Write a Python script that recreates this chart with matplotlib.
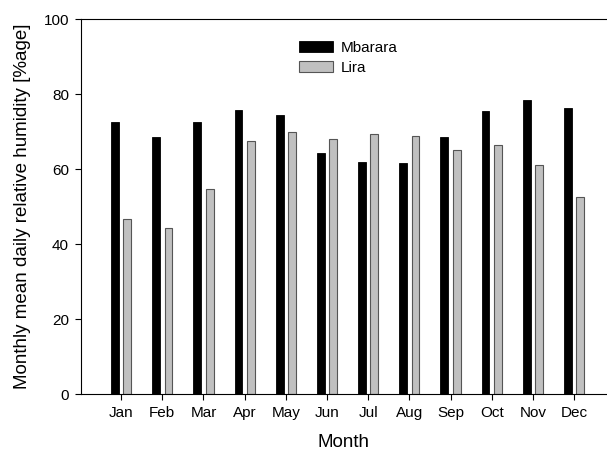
import numpy as np
import matplotlib.pyplot as plt

plt.rcParams['font.family'] = ['Liberation Sans', 'DejaVu Sans']

months = ['Jan', 'Feb', 'Mar', 'Apr', 'May', 'Jun', 'Jul', 'Aug', 'Sep', 'Oct', 'Nov', 'Dec']
mbarara = [72.5, 68.5, 72.5, 75.7, 74.4, 64.3, 62.0, 61.5, 68.5, 75.5, 78.4, 76.3]
lira = [46.7, 44.2, 54.6, 67.4, 69.8, 68.0, 69.4, 68.9, 65.2, 66.3, 61.2, 52.6]

x = np.arange(1, len(months) + 1)
w = 0.19

fig = plt.figure(figsize=(6.07, 4.54), dpi=100)
ax = fig.add_axes([0.133, 0.132, 0.867, 0.826])

ax.bar(x - 0.15, mbarara, width=w, color='black', edgecolor='black', linewidth=0.6, label='Mbarara')
ax.bar(x + 0.15, lira, width=w, color='#c0c0c0', edgecolor='#555555', linewidth=0.8, label='Lira')

ax.set_xlim(0.02, 12.8)
ax.set_ylim(0, 100)
ax.set_xticks(x)
ax.set_xticklabels(months)
ax.set_yticks([0, 20, 40, 60, 80, 100])
ax.tick_params(direction='out', length=4.5, labelsize=11, width=0.8, pad=4)
ax.spines['right'].set_visible(False)

ax.set_xlabel('Month', fontsize=13.5, labelpad=10)
ax.set_ylabel('Monthly mean daily relative humidity [%age]', fontsize=13.5, labelpad=9)

# legend without frame, sitting in the upper middle
ax.legend(loc='upper left', bbox_to_anchor=(0.40, 0.962), frameon=False, fontsize=11,
          handlelength=2.25, handleheight=0.75, handletextpad=0.5, labelspacing=0.4, borderpad=0)

fig.savefig('out.png', dpi=100)
